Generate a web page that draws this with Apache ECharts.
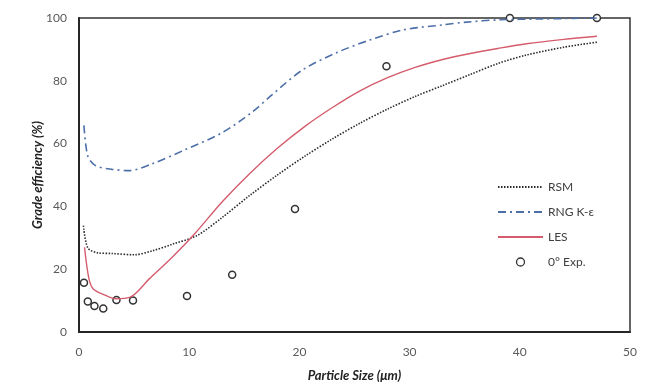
<!DOCTYPE html>
<html>
<head>
<meta charset="utf-8">
<script src="https://cdn.jsdelivr.net/npm/echarts@6/dist/echarts.min.js"></script>
<style>
  html, body { margin: 0; padding: 0; background: #fff; }
  #chart { width: 649px; height: 385px; }
</style>
</head>
<body>
<div id="chart"></div>
<script>
// particle size (um) / grade efficiency (%)
const rsmX = [0.4, 0.8, 1.7, 3, 5, 6.7, 8.5, 10.7, 13, 15.5, 18, 20.5, 23, 25.5, 28, 30.5, 33, 35.5, 38, 40.6, 44, 47];
const rsmY = [33.9, 26.8, 25.2, 25, 24.6, 25.9, 28, 30.7, 36.5, 43.5, 50, 56, 61.5, 66.5, 71, 75, 78.5, 82, 85.5, 88.2, 90.7, 92.3];

const rngX = [0.45, 0.8, 1.5, 3, 4.6, 6.6, 9.6, 13, 15.7, 17.5, 20.3, 23.4, 26.4, 29.4, 33, 35.2, 38, 42, 47];
const rngY = [65.8, 56, 53, 51.8, 51.4, 53.5, 58, 63.5, 70, 75.5, 83.5, 89, 93, 96.2, 97.8, 98.7, 99.4, 99.7, 100];

const lesX = [0.5, 0.9, 1.3, 2.2, 3.3, 4.6, 6.4, 8.5, 10.5, 13, 15.5, 18, 20.5, 23, 25.5, 28, 30.5, 33, 35.5, 38, 40.6, 44, 47];
const lesY = [27, 17, 13.7, 12, 10.6, 11, 17, 24, 31.3, 41.5, 50.5, 58.5, 65.5, 71.5, 76.8, 81, 84.3, 86.8, 88.7, 90.3, 91.8, 93.2, 94.2];

const expX = [0.45, 0.8, 1.4, 2.2, 3.4, 4.9, 9.8, 13.9, 19.6, 27.9, 39.1, 47];
const expY = [15.7, 9.7, 8.3, 7.5, 10.2, 10, 11.5, 18.2, 39.2, 84.6, 100, 100];

const seriesNames = ['RSM', 'RNG K-ε', 'LES', '0° Exp.'];
const lineColors = ['#2b2b2b', '#4d6fa8', '#d45c6c'];

const pairs = (xs, ys) => xs.map((x, i) => [x, ys[i]]);

const chart = echarts.init(document.getElementById('chart'));

const labelFont = { fontFamily: 'Lato', fontSize: 12, color: '#595959' };
const nameFont = { fontFamily: 'Lato', fontSize: 13, fontWeight: 'bold', fontStyle: 'italic', color: '#222' };

chart.setOption({
  animation: false,
  grid: {
    left: 79, right: 19, top: 18, bottom: 53, outerBoundsMode: 'none',
    show: true, borderColor: '#333', borderWidth: 1.5
  },
  xAxis: {
    type: 'value', min: 0, max: 50, interval: 10,
    name: 'Particle Size (μm)', nameLocation: 'middle', nameGap: 37, nameMoveOverlap: false,
    nameTextStyle: nameFont,
    axisLine: { lineStyle: { color: '#262626', width: 2 } },
    axisTick: { show: false },
    axisLabel: Object.assign({ margin: 14 }, labelFont),
    splitLine: { show: false }
  },
  yAxis: {
    type: 'value', min: 0, max: 100, interval: 20,
    name: 'Grade efficiency (%)', nameLocation: 'middle', nameGap: 35, nameMoveOverlap: false,
    nameTextStyle: nameFont,
    axisLine: { show: true, lineStyle: { color: '#262626', width: 2 } },
    axisTick: { show: false },
    axisLabel: Object.assign({ margin: 12 }, labelFont),
    splitLine: { show: false }
  },
  legend: {
    orient: 'vertical', left: 492, top: 176,
    itemWidth: 45, itemHeight: 8, itemGap: 13,
    textStyle: { fontFamily: 'Lato', fontSize: 12, color: '#404040' },
    data: [
      { name: seriesNames[0], itemStyle: { opacity: 0 } },
      { name: seriesNames[1], itemStyle: { opacity: 0 } },
      { name: seriesNames[2], itemStyle: { opacity: 0 } },
      { name: seriesNames[3], itemStyle: { borderWidth: 1.3 } }
    ]
  },
  series: [
    {
      name: seriesNames[0], type: 'line', smooth: 0.3, symbol: 'none',
      data: pairs(rsmX, rsmY),
      itemStyle: { color: lineColors[0] },
      lineStyle: { color: lineColors[0], width: 1.6, type: [1.5, 1.5] }
    },
    {
      name: seriesNames[1], type: 'line', smooth: 0.3, symbol: 'none',
      data: pairs(rngX, rngY),
      itemStyle: { color: lineColors[1] },
      lineStyle: { color: lineColors[1], width: 1.6, type: [8, 4, 2, 4] }
    },
    {
      name: seriesNames[2], type: 'line', smooth: 0.3, symbol: 'none',
      data: pairs(lesX, lesY),
      itemStyle: { color: lineColors[2] },
      lineStyle: { color: lineColors[2], width: 1.4 }
    },
    {
      name: seriesNames[3], type: 'scatter', symbol: 'circle', symbolSize: 7, clip: false,
      data: pairs(expX, expY),
      itemStyle: { color: '#ffffff', borderColor: '#333', borderWidth: 1.5, opacity: 1 }
    }
  ]
});
</script>
</body>
</html>
